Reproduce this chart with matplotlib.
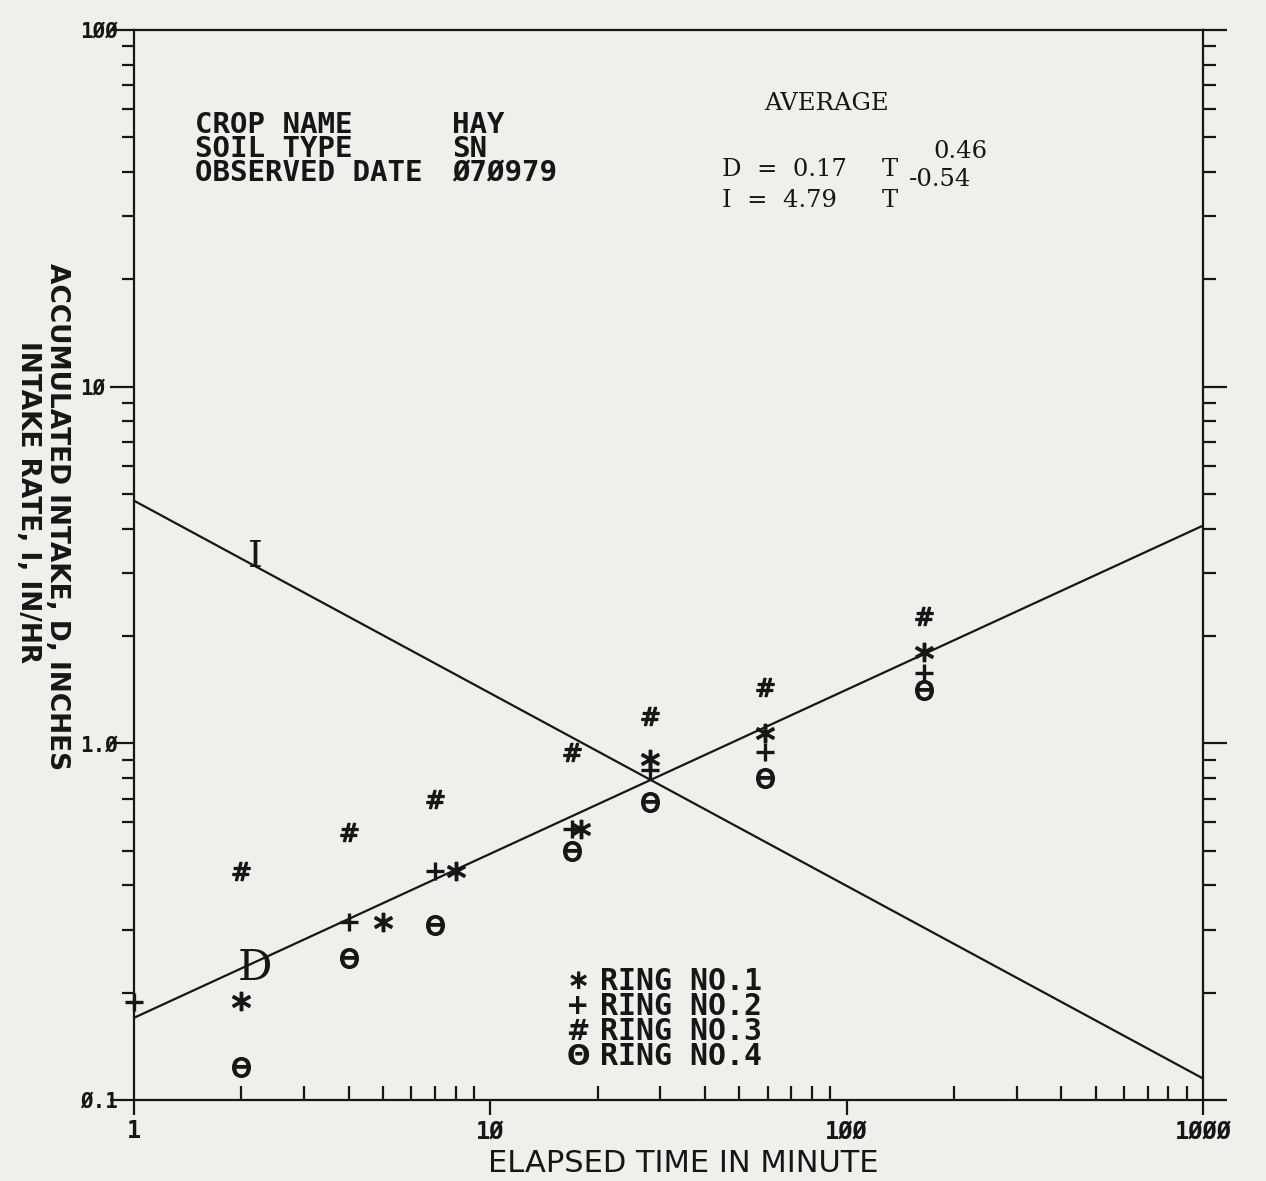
"""Infiltration plot: accumulated intake D and intake rate I vs elapsed time (log-log)."""

import numpy as np
import matplotlib

matplotlib.use("Agg")
import matplotlib.pyplot as plt
from matplotlib.ticker import FixedLocator, FixedFormatter, NullFormatter

W, H = 1266, 1181
BG = "#eef0eb"
INK = "#161616"

# ring readings: elapsed time (min) and accumulated intake (in)
ring1_t = [2, 5, 8, 18, 28, 59, 165]
ring1_d = [0.19, 0.315, 0.44, 0.575, 0.905, 1.07, 1.80]
ring2_t = [1, 4, 7, 17, 28, 59, 165]
ring2_d = [0.188, 0.315, 0.44, 0.575, 0.84, 0.944, 1.57]
ring3_t = [2, 4, 7, 17, 28, 59, 165]
ring3_d = [0.44, 0.563, 0.70, 0.944, 1.19, 1.44, 2.28]
ring4_t = [2, 4, 7, 17, 28, 59, 165]
ring4_d = [0.124, 0.25, 0.31, 0.50, 0.684, 0.80, 1.41]

ring_names = ["RING NO.1", "RING NO.2", "RING NO.3", "RING NO.4"]
ring_glyphs = ["\u2217", "+", "#", "\u0398"]

# average fits shown in the header: D = a T^b, I = c T^d
D_coef, D_exp = 0.17, 0.46
I_coef, I_exp = 4.79, -0.54
fit_t = [1, 1000]

heads = ["CROP NAME", "SOIL TYPE", "OBSERVED DATE"]
vals = ["HAY", "SN", "\u00d87\u00d8979"]

x_major = [1, 10, 100, 1000]
x_labels = ["1", "1\u00d8", "1\u00d8\u00d8", "1\u00d8\u00d8\u00d8"]
y_major = [0.1, 1, 10, 100]
y_labels = ["\u00d8.1", "1.\u00d8", "1\u00d8", "1\u00d8\u00d8"]


def fp(x, y):
    """pixel position in the 1266x1181 frame -> figure fraction"""
    return x / W, 1 - y / H


def main():
    plt.rcParams["font.family"] = ["DejaVu Sans"]
    fig = plt.figure(figsize=(W / 100, H / 100), dpi=100, facecolor=BG)
    x0, y0 = fp(134, 1100)
    x1, y1 = fp(1203, 30)
    ax = fig.add_axes([x0, y0, x1 - x0, y1 - y0], facecolor=BG)

    ax.set_xscale("log")
    ax.set_yscale("log")
    ax.set_xlim(1, 1000)
    ax.set_ylim(0.1, 100)

    t = np.array(fit_t, dtype=float)
    ax.plot(t, D_coef * t ** D_exp, color=INK, lw=1.6)
    ax.plot(t, I_coef * t ** I_exp, color=INK, lw=1.6)

    mk = dict(ls="none", color=INK, clip_on=False)
    ax.plot(ring1_t, ring1_d, marker="$*$", ms=13, mew=1.2, **mk)
    ax.plot(ring2_t, ring2_d, marker="+", ms=13, mew=2.4, **mk)
    ax.plot(ring3_t, ring3_d, marker=r"$\#$", ms=13, mew=1.0, **mk)
    ax.plot(ring4_t, ring4_d, marker=r"$\Theta$", ms=14, mew=1.2, **mk)

    # curve tags
    ax.text(2.19, 3.32, "I", fontsize=27, family="DejaVu Serif", ha="center",
            va="center", color=INK)
    ax.text(2.19, 0.235, "D", fontsize=31, family="DejaVu Serif", ha="center",
            va="center", color=INK, fontweight="light")

    for s in ax.spines.values():
        s.set_linewidth(1.6)
        s.set_color(INK)

    ax.xaxis.set_major_locator(FixedLocator(x_major))
    ax.xaxis.set_major_formatter(FixedFormatter(x_labels))
    ax.xaxis.set_minor_locator(FixedLocator(
        [m * d for d in (1, 10, 100) for m in range(2, 10)]))
    ax.xaxis.set_minor_formatter(NullFormatter())
    ax.yaxis.set_major_locator(FixedLocator(y_major))
    ax.yaxis.set_major_formatter(FixedFormatter(y_labels))
    ax.yaxis.set_minor_locator(FixedLocator(
        [m * d for d in (0.1, 1, 10) for m in range(2, 10)]))
    ax.yaxis.set_minor_formatter(NullFormatter())

    ax.tick_params(axis="x", which="major", direction="out", length=11, width=1.6,
                   pad=3, colors=INK, labelsize=17)
    ax.tick_params(axis="x", which="minor", direction="in", length=10, width=1.6,
                   colors=INK)
    ax.tick_params(axis="y", which="both", direction="out", left=True, right=True,
                   width=1.6, colors=INK)
    ax.tick_params(axis="y", which="major", length=17, pad=22, labelsize=15)
    ax.tick_params(axis="y", which="minor", length=9)
    for lab in ax.get_xticklabels():
        lab.set_family("DejaVu Sans Mono")
        lab.set_fontweight("bold")
    for lab in ax.get_yticklabels():
        lab.set_family("DejaVu Sans Mono")
        lab.set_fontweight("bold")
        lab.set_horizontalalignment("left")

    mono = dict(family="DejaVu Sans Mono", fontweight="bold", color=INK,
                va="center", ha="left", linespacing=0.83)
    # header block (three rows, 25 px apart, centred on the middle row)
    fig.text(*fp(195, 149), "\n".join(heads), fontsize=21, **mono)
    fig.text(*fp(452, 149), "\n".join(vals), fontsize=21, **mono)

    serif = dict(family="DejaVu Serif", color=INK, va="center", fontsize=17.5)
    fig.text(*fp(826, 104), "AVERAGE", ha="center", **serif)
    fig.text(*fp(722, 170), f"D  =  {D_coef:.2f}", ha="left", **serif)
    fig.text(*fp(722, 201), f"I  =  {I_coef:.2f}", ha="left", **serif)
    fig.text(*fp(890, 170), "T", ha="center", **serif)
    fig.text(*fp(890, 201), "T", ha="center", **serif)
    fig.text(*fp(933, 152), f"{D_exp:.2f}", ha="left", **serif)
    fig.text(*fp(909, 180), f"{I_exp:.2f}", ha="left", **serif)

    # ring legend
    fig.text(*fp(578, 1019), "\n".join(ring_glyphs), fontsize=20,
             family="DejaVu Sans", fontweight="bold", color=INK, va="center",
             ha="center", linespacing=0.89)
    fig.text(*fp(600, 1019), "\n".join(ring_names), fontsize=21.5, **mono)

    # axis titles
    fig.text(*fp(683, 1164), "ELAPSED TIME IN MINUTE", fontsize=22,
             ha="center", va="center", color=INK)
    ylab = dict(rotation=-90, ha="center", va="center", family="DejaVu Sans",
                fontweight="bold", color=INK, fontsize=19)
    fig.text(*fp(28, 502), "INTAKE RATE, I, IN/HR", **ylab)
    fig.text(*fp(57, 517), "ACCUMULATED INTAKE, D, INCHES", **ylab)

    fig.savefig("out.png", dpi=100, facecolor=BG)


if __name__ == "__main__":
    main()
